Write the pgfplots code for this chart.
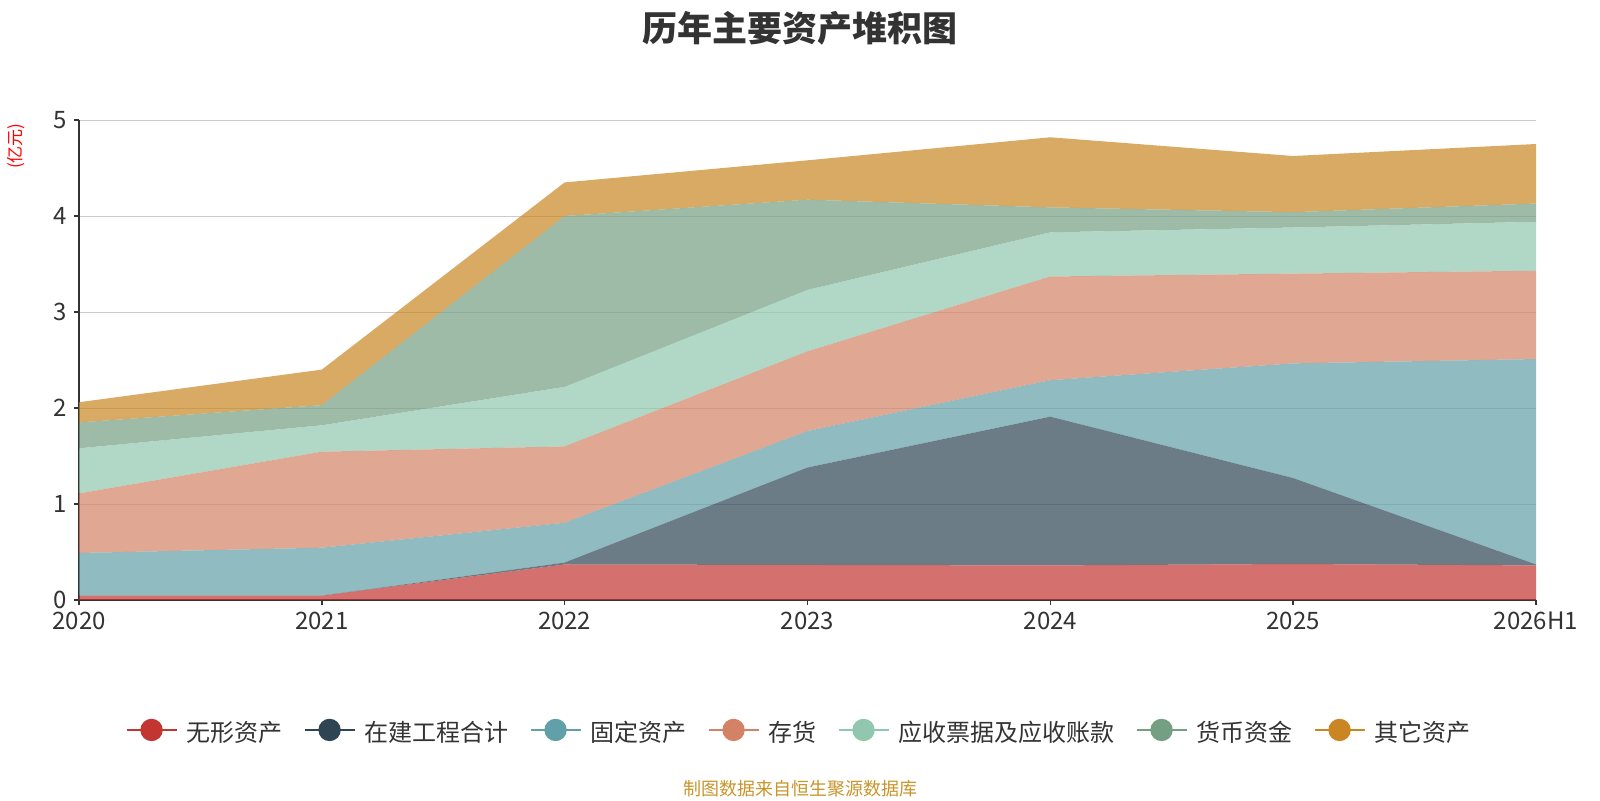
\documentclass[border=0pt]{standalone}
\usepackage{fontspec}
\setmainfont{Noto Sans CJK SC}
\usepackage{pgfplots}
\pgfplotsset{compat=1.18}
\definecolor{c1}{HTML}{C23531}
\definecolor{c2}{HTML}{2F4554}
\definecolor{c3}{HTML}{61A0A8}
\definecolor{c4}{HTML}{D48265}
\definecolor{c5}{HTML}{91C7AE}
\definecolor{c6}{HTML}{749F83}
\definecolor{c7}{HTML}{CA8622}
\definecolor{txt}{HTML}{333333}
\definecolor{gridc}{HTML}{CCCCCC}
\definecolor{foot}{HTML}{C9952B}
\pgfplotsset{
  leg/.style={legend image code/.code={%
    \draw[#1,opacity=1,line width=1pt] (0pt,1.5pt) -- (25pt,1.5pt);
    \fill[#1,opacity=1,fill opacity=1] (12.5pt,1.5pt) circle (5.6pt);}},
}
\begin{document}
\begin{tikzpicture}[x=1pt,y=1pt]
\path[use as bounding box, fill=white] (0,0) rectangle (800,400);
\node[font=\bfseries\fontsize{17.5}{20}\selectfont, text=txt] at (400,386) {历年主要资产堆积图};
\node[rotate=90, text=red, font=\fontsize{8.5}{10}\selectfont] at (8.25,327) {(亿元)};
\node[text=foot, font=\fontsize{9}{11}\selectfont] at (400,5.5) {制图数据来自恒生聚源数据库};
\begin{axis}[
  at={(39.5pt,100pt)}, anchor=south west,
  scale only axis, width=728.5pt, height=240pt,
  xmin=0, xmax=6, ymin=0, ymax=5,
  xtick={0,1,2,3,4,5,6},
  xticklabels={2020,2021,2022,2023,2024,2025,2026H1},
  ytick={0,1,2,3,4,5},
  axis x line*=bottom, axis y line*=left,
  axis line style={txt, line width=0.8pt, -},
  tick style={txt, line width=0.8pt},
  tick align=outside, major tick length=2.5pt,
  ymajorgrids, grid style={gridc, line width=0.5pt},
  tick label style={font=\fontsize{12}{14}\selectfont, text=txt},
  /pgf/number format/assume math mode=true,
  stack plots=y,
  legend columns=-1,
  legend style={at={(0.4949,-0.277)}, anchor=center, draw=none, fill=none,
    font=\fontsize{12}{14}\selectfont, text=txt,
    /tikz/every odd column/.append style={column sep=2.5pt},
    /tikz/every even column/.append style={column sep=8.5pt}},
]
\addplot[draw=none, fill=c1, fill opacity=0.7, leg=c1] coordinates {(0,0.045) (1,0.045) (2,0.37) (3,0.365) (4,0.36) (5,0.375) (6,0.36)} \closedcycle;
\addlegendentry{无形资产}
\addplot[draw=none, fill=c2, fill opacity=0.7, leg=c2] coordinates {(0,0) (1,0) (2,0.02) (3,1.015) (4,1.55) (5,0.895) (6,0.01)} \closedcycle;
\addlegendentry{在建工程合计}
\addplot[draw=none, fill=c3, fill opacity=0.7, leg=c3] coordinates {(0,0.445) (1,0.50) (2,0.415) (3,0.38) (4,0.38) (5,1.195) (6,2.14)} \closedcycle;
\addlegendentry{固定资产}
\addplot[draw=none, fill=c4, fill opacity=0.7, leg=c4] coordinates {(0,0.62) (1,1.00) (2,0.795) (3,0.83) (4,1.08) (5,0.935) (6,0.92)} \closedcycle;
\addlegendentry{存货}
\addplot[draw=none, fill=c5, fill opacity=0.7, leg=c5] coordinates {(0,0.47) (1,0.275) (2,0.62) (3,0.64) (4,0.46) (5,0.48) (6,0.51)} \closedcycle;
\addlegendentry{应收票据及应收账款}
\addplot[draw=none, fill=c6, fill opacity=0.7, leg=c6] coordinates {(0,0.27) (1,0.21) (2,1.78) (3,0.94) (4,0.26) (5,0.16) (6,0.19)} \closedcycle;
\addlegendentry{货币资金}
\addplot[draw=none, fill=c7, fill opacity=0.7, leg=c7] coordinates {(0,0.21) (1,0.37) (2,0.35) (3,0.41) (4,0.73) (5,0.585) (6,0.62)} \closedcycle;
\addlegendentry{其它资产}
\end{axis}
\end{tikzpicture}
\end{document}
